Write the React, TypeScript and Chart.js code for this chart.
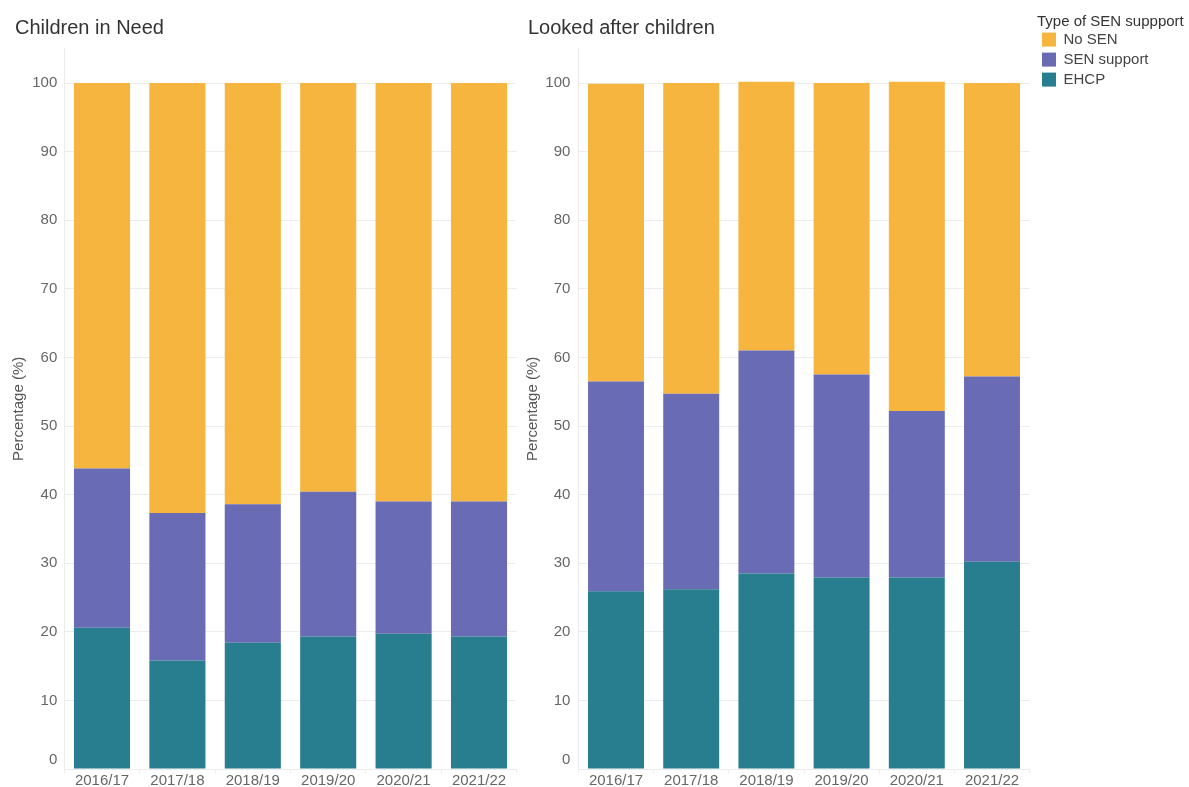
import { useEffect, useRef } from 'react';
import { Chart, registerables } from 'chart.js';

Chart.register(...registerables);

const FONT = '"Liberation Sans", Arial, Helvetica, sans-serif';

// Academic years on the x axis
const years = ['2016/17', '2017/18', '2018/19', '2019/20', '2020/21', '2021/22'];

// Series, bottom of the stack first
const seriesNames = ['EHCP', 'SEN support', 'No SEN'];
const seriesColors = ['#287D8E', '#6A6BB5', '#F5B53E'];

// Children in Need (%)
const cinEhcp = [20.6, 15.8, 18.4, 19.3, 19.7, 19.3];
const cinSenSupport = [23.2, 21.5, 20.2, 21.1, 19.3, 19.7];
const cinNoSen = [56.2, 62.7, 61.4, 59.6, 61.0, 61.0];

// Looked after children (%)
const claEhcp = [25.9, 26.2, 28.5, 27.9, 27.9, 30.2];
const claSenSupport = [30.6, 28.5, 32.5, 29.6, 24.3, 27.0];
const claNoSen = [43.4, 45.3, 39.2, 42.5, 48.0, 42.8];

// Value axis
const yTickValues = [0, 10, 20, 30, 40, 50, 60, 70, 80, 90, 100];
const yMax = 105;

const GRID = '#ececec';

type Frame = {
  padLeft: number;
  padRight: number;
  axisWidth: number;
  axisTitlePad: number;
  tickPad: number;
  legend: boolean;
  gapWidth: number;
};

// The legend title is wider than its items; widen the legend's clip box so it shows in full.
const legendWidthPlugin = {
  id: 'legendWidth',
  beforeDraw(chart: any) {
    const l = chart.legend;
    if (l && l.options && l.options.display) {
      l.right = chart.width;
      l.width = l.right - l.left;
    }
  },
};

function panelConfig(title: string, ehcp: number[], sen: number[], noSen: number[], f: Frame): any {
  const series = [ehcp, sen, noSen];
  const scales: any = {
    x: {
      stacked: true,
      offset: true,
      grid: { display: true, drawOnChartArea: false, drawTicks: true, tickLength: 4, color: GRID, offset: true },
      border: { display: true, color: GRID },
      ticks: { font: { family: FONT, size: 15 }, color: '#666', padding: -1, maxRotation: 0, autoSkip: false },
      afterFit: (s: any) => {
        s.height = 18;
        s.paddingLeft = 0;
        s.paddingRight = 0;
      },
    },
    y: {
      stacked: true,
      min: 0,
      max: yMax,
      grid: { color: GRID, drawTicks: false },
      border: { display: true, color: GRID },
      afterBuildTicks: (axis: any) => {
        axis.ticks = yTickValues.map((v) => ({ value: v }));
      },
      ticks: {
        font: { family: FONT, size: 15 },
        color: '#666',
        padding: f.tickPad,
        // the zero label sits a little above its line
        callback: (v: any) => (Number(v) === 0 ? ['0', ''] : String(v)),
      },
      title: {
        display: true,
        text: 'Percentage (%)',
        color: '#555',
        font: { family: FONT, size: 15 },
        padding: { top: f.axisTitlePad, bottom: 0 },
      },
      afterFit: (s: any) => {
        s.width = f.axisWidth;
        s.paddingTop = 0;
        s.paddingBottom = 0;
      },
    },
  };
  if (f.gapWidth > 0) {
    scales.yGap = {
      type: 'linear',
      position: 'right',
      display: true,
      grid: { display: false },
      border: { display: false },
      ticks: { display: false },
      title: { display: false },
      afterFit: (s: any) => {
        s.width = f.gapWidth;
        s.paddingTop = 0;
        s.paddingBottom = 0;
      },
    };
  }
  return {
    type: 'bar',
    data: {
      labels: years,
      datasets: seriesNames.map((name, i) => ({
        label: name,
        data: series[i],
        backgroundColor: seriesColors[i],
        borderWidth: 0,
      })),
    },
    plugins: [legendWidthPlugin],
    options: {
      responsive: false,
      animation: false,
      events: [],
      layout: { padding: { left: f.padLeft, right: f.padRight, top: 0, bottom: 0 } },
      datasets: { bar: { barPercentage: 0.744, categoryPercentage: 1 } },
      scales,
      plugins: {
        tooltip: { enabled: false },
        title: {
          display: true,
          text: title,
          align: 'start',
          color: '#333',
          font: { family: FONT, size: 20, weight: 'normal' },
          padding: { top: 16.4, bottom: 8.3 },
        },
        legend: {
          display: f.legend,
          position: 'right',
          align: 'start',
          reverse: true,
          maxWidth: 110,
          labels: {
            boxWidth: 14,
            boxHeight: 14,
            padding: 5,
            color: '#444',
            font: { family: FONT, size: 15 },
          },
          title: {
            display: true,
            text: 'Type of SEN suppport',
            position: 'start',
            color: '#333',
            font: { family: FONT, size: 15 },
            padding: { top: 14.5, bottom: -5.4 },
          },
        },
      },
    },
  };
}

export default function App() {
  const leftRef = useRef<HTMLCanvasElement | null>(null);
  const rightRef = useRef<HTMLCanvasElement | null>(null);

  useEffect(() => {
    if (!leftRef.current || !rightRef.current) return;
    const left = new Chart(
      leftRef.current,
      panelConfig('Children in Need', cinEhcp, cinSenSupport, cinNoSen, {
        padLeft: 15,
        padRight: 5.3,
        axisWidth: 49.3,
        axisTitlePad: -5,
        tickPad: 7,
        legend: false,
        gapWidth: 0,
      })
    );
    const right = new Chart(
      rightRef.current,
      panelConfig('Looked after children', claEhcp, claSenSupport, claNoSen, {
        padLeft: 14,
        padRight: 42,
        axisWidth: 50.4,
        axisTitlePad: -4,
        tickPad: 8,
        legend: true,
        gapWidth: 7.4,
      })
    );
    return () => {
      left.destroy();
      right.destroy();
    };
  }, []);

  return (
    <div style={{ position: 'absolute', left: 0, top: 0, width: 1189, height: 787, background: '#fff', overflow: 'hidden' }}>
      <canvas ref={leftRef} width={522} height={787} style={{ position: 'absolute', left: 0, top: 0, display: 'block' }} />
      <canvas ref={rightRef} width={675} height={787} style={{ position: 'absolute', left: 514, top: 0, display: 'block' }} />
    </div>
  );
}
